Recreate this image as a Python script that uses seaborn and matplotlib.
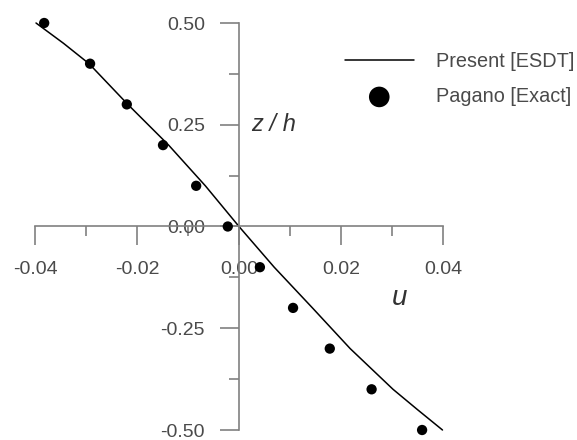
import numpy as np
import pandas as pd
import matplotlib
matplotlib.use("Agg")
import matplotlib.pyplot as plt
import seaborn as sns
from matplotlib.ticker import MultipleLocator, FormatStrFormatter

# Present [ESDT] solution curve
z_line = [0.5, 0.45, 0.4, 0.3, 0.2, 0.1, 0.0, -0.1, -0.2, -0.3, -0.4, -0.45, -0.5]
u_line = [-0.0398, -0.0344, -0.0294, -0.0218, -0.0138, -0.0066, 0.0, 0.0069, 0.0144,
          0.0218, 0.0302, 0.0350, 0.0399]

# Pagano [Exact] points
z_pts = [0.5, 0.4, 0.3, 0.2, 0.1, 0.0, -0.1, -0.2, -0.3, -0.4, -0.5]
u_pts = [-0.0382, -0.0292, -0.0220, -0.0149, -0.0084, -0.0022, 0.0041, 0.0106, 0.0178, 0.0260, 0.0359]

x_ticks = [-0.04, -0.02, 0.00, 0.02, 0.04]
y_ticks = [-0.50, -0.25, 0.00, 0.25, 0.50]

sns.set_style("white")
plt.rcParams['font.family'] = ['Liberation Sans', 'DejaVu Sans']
plt.rcParams['axes.unicode_minus'] = False

fig = plt.figure(figsize=(5.77, 4.40), dpi=100)
ax = fig.add_axes([35/577, 1 - 430/440, (443 - 35)/577, (430 - 23)/440])

df_line = pd.DataFrame({"u": u_line, "z": z_line})
df_pts = pd.DataFrame({"u": u_pts, "z": z_pts})

sns.lineplot(data=df_line, x="u", y="z", sort=False, color="black", linewidth=1.1,
             label="Present [ESDT]", ax=ax, clip_on=False)
sns.scatterplot(data=df_pts, x="u", y="z", color="black", s=55, edgecolor="none",
                label="Pagano [Exact]", ax=ax, clip_on=False, zorder=3)

ax.set_xlim(-0.04, 0.04)
ax.set_ylim(-0.5, 0.5)

spine_col = "#808080"
for s in ["top", "right"]:
    ax.spines[s].set_visible(False)
ax.spines["left"].set_position(("data", 0))
ax.spines["bottom"].set_position(("data", 0))
for s in ["left", "bottom"]:
    ax.spines[s].set_color(spine_col)
    ax.spines[s].set_linewidth(1.2)

ax.set_xticks(x_ticks)
ax.set_yticks(y_ticks)
ax.xaxis.set_minor_locator(MultipleLocator(0.01))
ax.yaxis.set_minor_locator(MultipleLocator(0.125))
ax.xaxis.set_major_formatter(FormatStrFormatter("%.2f"))
ax.yaxis.set_major_formatter(FormatStrFormatter("%.2f"))

ax.tick_params(axis="x", which="major", direction="out", length=14, width=1.2,
               color=spine_col, labelsize=14, labelcolor="#4a4a4a", pad=10.5)
ax.tick_params(axis="x", which="minor", direction="out", length=7, width=1.2, color=spine_col)
ax.tick_params(axis="y", which="major", direction="out", length=14, width=1.2,
               color=spine_col, labelsize=14, labelcolor="#4a4a4a", pad=10.5)
ax.tick_params(axis="y", which="minor", direction="out", length=7, width=1.2, color=spine_col)
ax.xaxis.set_ticks_position("bottom")
ax.yaxis.set_ticks_position("left")

ax.set_xlabel("")
ax.set_ylabel("")
ax.text(0.0023, 0.25, "z / h", style="italic", fontsize=17, color="#333333",
        ha="left", va="center")
ax.text(0.0314, -0.175, "u", style="italic", fontsize=20, color="#333333",
        ha="center", va="center")

handles, labels = ax.get_legend_handles_labels()
if ax.get_legend() is not None:
    ax.get_legend().remove()
leg = fig.legend(handles, labels, loc="center left",
                 bbox_to_anchor=(345/577, 1 - 79/440), frameon=False,
                 fontsize=14.3, handlelength=3.45, handletextpad=1.15,
                 labelspacing=0.82, markerscale=2.0, borderpad=0, borderaxespad=0)
for t in leg.get_texts():
    t.set_color("#4a4a4a")

fig.savefig("out.png", dpi=100)
